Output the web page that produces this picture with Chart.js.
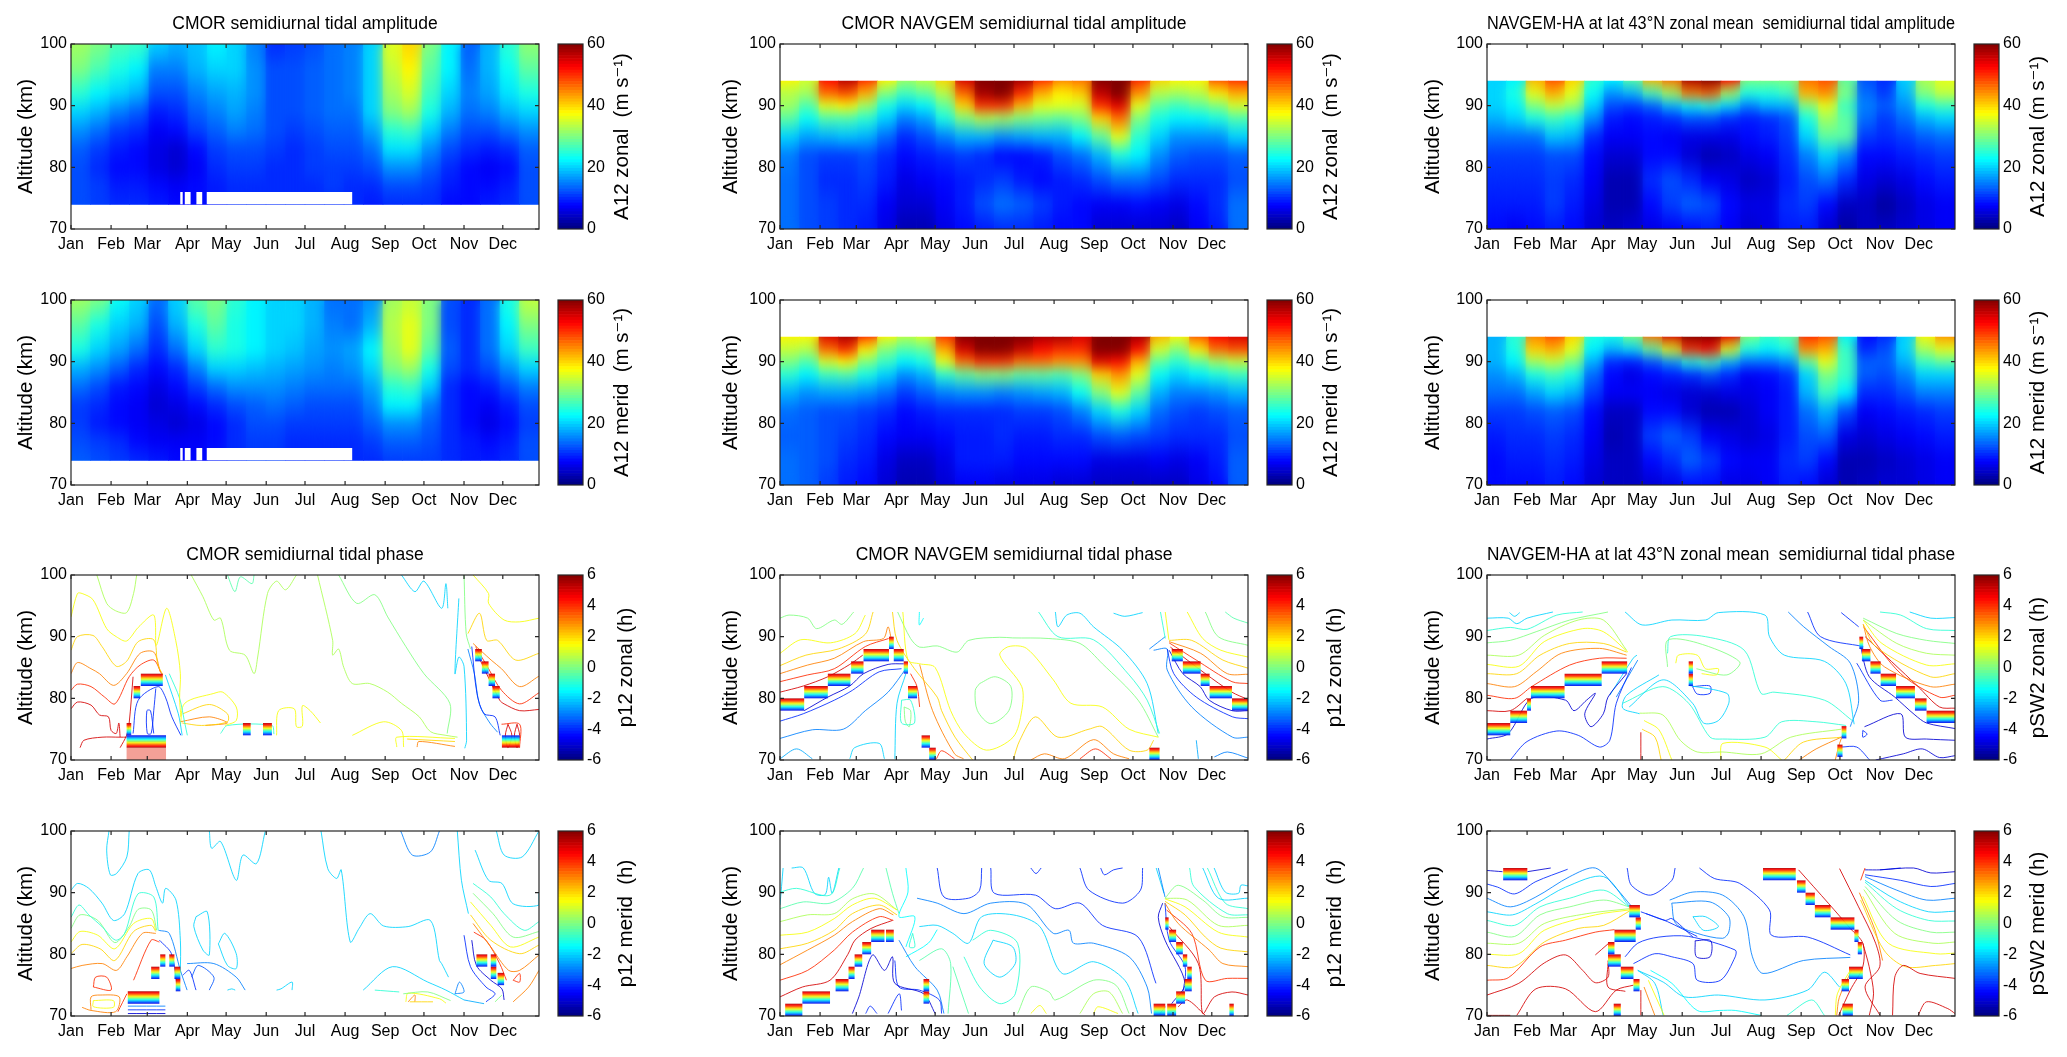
<!DOCTYPE html>
<html>
<head>
<meta charset="utf-8">
<title>Semidiurnal tidal amplitude and phase</title>
<script src="https://cdn.jsdelivr.net/npm/chart.js@4"></script>
<style>
html, body { margin: 0; background: #fff; }
#page { position: relative; width: 2067px; height: 1057px; overflow: hidden; }
canvas { position: absolute; }
</style>
</head>
<body>
<div id="page"></div>
<script>
const months = ['Jan','Feb','Mar','Apr','May','Jun','Jul','Aug','Sep','Oct','Nov','Dec'];
const monthDays = [0,31,59,90,120,151,181,212,243,273,304,334];
const lastDay = 362;
const altCmor = [74,77,80,83,86,89,92,96,100];
const altNav = [70,74,78,82,85,88,90,92,94];
// white notches in the lowest CMOR bins, [from day, to day]
const cmorGaps = [[84.5,86.4],[88,92.5],[97,101.5],[105,217.5]];

// amplitude, m/s: one row per altitude, one value per half month
const ampCmorZonal = [
  [12,11,10,10,9,8,8,9,10,10,10,10,10,10,10,9,10,10,10,8,8,9,10,12],
  [12,11,9,9,8,7,8,9,10,10,10,10,10,11,10,10,12,12,11,9,8,8,9,12],
  [12,10,8,8,6,5,7,10,11,11,10,10,11,11,11,12,16,16,13,10,8,7,8,12],
  [13,11,9,8,6,5,8,11,12,12,11,10,11,12,12,14,21,21,16,12,10,9,10,13],
  [16,14,11,10,7,8,11,13,15,14,12,11,12,13,13,17,25,26,20,15,12,12,14,16],
  [20,18,15,13,9,10,13,15,17,15,12,12,13,14,14,20,30,32,24,18,14,15,18,20],
  [25,22,20,18,12,12,15,17,18,16,12,12,13,14,15,20,32,35,26,20,15,17,21,24],
  [30,27,24,22,15,15,18,20,20,16,12,12,13,14,15,20,34,38,28,22,14,18,23,28],
  [32,30,27,26,20,18,19,22,20,15,10,11,12,14,15,20,36,40,30,22,13,18,25,31]
];
const ampCmorMerid = [
  [13,12,11,10,9,8,8,9,10,11,11,10,10,10,10,10,11,11,11,10,9,9,10,12],
  [12,11,10,8,7,7,7,8,10,11,11,10,10,10,10,11,13,13,12,10,9,8,9,12],
  [11,9,8,7,6,5,6,8,10,12,12,11,11,11,11,13,16,16,13,10,8,6,8,11],
  [11,10,8,7,5,6,8,10,12,13,14,13,12,12,12,15,22,22,15,10,8,7,9,12],
  [14,12,9,8,6,8,11,14,16,16,16,15,14,14,14,17,25,26,20,10,8,9,12,15],
  [18,16,13,10,8,10,15,20,20,19,18,17,16,15,16,20,30,32,24,12,10,12,16,20],
  [24,20,17,14,10,14,20,25,24,22,20,19,17,16,17,22,32,36,28,13,10,14,20,26],
  [28,24,20,18,12,18,24,28,24,22,20,20,18,15,14,18,33,36,30,12,10,14,22,30],
  [32,30,23,20,14,20,28,30,25,22,20,20,18,14,14,16,32,34,30,12,10,14,24,34]
];
const ampNavZonal = [
  [14,12,11,10,9,6,3,3,6,8,9,10,10,9,8,8,5,5,5,5,4,7,9,14],
  [14,12,11,10,10,7,5,5,7,9,12,14,13,11,9,8,7,7,8,7,6,8,10,14],
  [14,12,10,10,11,9,6,7,8,9,10,11,9,8,9,10,12,14,14,12,10,10,10,12],
  [15,12,11,11,12,10,8,9,10,11,10,8,8,9,12,14,18,24,22,16,13,12,12,13],
  [20,17,18,19,18,14,10,12,15,18,18,16,17,18,18,22,28,36,25,20,16,16,16,20],
  [28,23,27,27,25,20,15,17,24,30,33,32,30,29,28,30,40,46,30,24,22,22,24,27],
  [32,27,36,38,32,24,20,22,28,40,50,50,42,36,36,35,50,54,36,28,26,28,30,35],
  [33,32,46,48,42,30,26,28,33,46,58,60,50,42,38,40,56,60,44,33,32,33,38,42],
  [38,35,52,57,50,38,32,34,40,55,60,60,58,50,45,46,60,60,50,40,38,38,48,50]
];
const ampNavMerid = [
  [14,13,11,9,8,5,3,3,5,7,7,6,6,6,5,5,4,4,4,4,4,6,8,13],
  [14,13,12,10,9,6,4,4,6,9,9,9,8,8,8,8,6,6,6,7,6,7,9,13],
  [13,13,12,11,10,8,7,7,8,9,9,10,9,9,10,10,12,13,12,11,10,10,10,12],
  [14,13,12,12,11,10,8,9,10,10,10,10,11,11,12,15,20,24,20,14,12,11,12,13],
  [18,16,17,17,16,14,11,13,15,16,16,15,16,17,18,23,30,36,28,18,15,15,16,18],
  [25,22,26,27,24,20,16,18,25,28,30,30,28,28,27,30,40,44,36,23,20,22,24,26],
  [30,27,35,38,30,26,22,24,36,46,50,50,46,46,44,44,54,52,42,28,25,28,32,34],
  [34,33,46,50,38,30,27,28,42,55,60,60,56,52,50,50,60,60,52,35,30,38,46,48],
  [38,38,55,58,50,38,34,36,50,60,60,60,60,58,58,55,60,60,58,42,38,48,53,55]
];
const ampHaZonal = [
  [8,7,8,9,8,5,4,5,6,7,8,9,7,5,6,9,9,5,2,4,4,5,6,7],
  [9,9,9,11,9,6,3,3,8,11,13,12,8,6,6,10,11,8,4,4,2,4,6,7],
  [10,10,10,11,10,7,3,3,10,12,10,7,6,4,5,9,12,14,10,6,5,6,8,9],
  [11,11,11,12,12,8,5,5,8,8,5,3,4,6,7,10,15,20,16,8,8,9,10,11],
  [14,14,14,19,18,10,7,7,8,7,6,6,6,8,9,11,20,28,28,11,10,11,13,14],
  [18,20,24,26,24,16,9,8,9,10,12,12,10,9,10,12,24,32,28,14,11,14,18,20],
  [20,22,30,34,32,20,12,11,13,18,22,24,20,15,18,18,30,36,26,15,13,16,24,26],
  [20,24,36,42,36,23,16,18,26,32,45,47,32,24,24,26,42,44,30,14,11,18,30,34],
  [20,22,42,48,40,25,22,28,42,46,58,60,52,30,30,30,46,48,28,12,10,20,33,36]
];
const ampHaMerid = [
  [8,8,8,9,8,5,4,4,5,6,8,8,6,6,7,9,8,5,3,4,5,5,6,7],
  [8,9,9,10,9,6,4,4,8,10,13,11,8,7,7,10,11,8,3,3,4,5,6,7],
  [9,10,10,11,10,7,3,4,11,13,11,7,6,5,6,9,12,13,6,5,6,7,8,9],
  [11,11,12,13,12,8,4,4,8,8,5,3,3,5,7,9,14,18,12,7,8,9,10,11],
  [14,14,17,20,18,11,7,7,7,6,5,5,6,6,7,9,18,26,22,10,10,12,15,15],
  [16,18,24,26,24,14,8,6,8,9,10,12,10,7,8,10,20,30,26,13,12,15,20,20],
  [18,22,32,34,30,18,10,9,12,16,24,26,18,14,14,16,28,36,26,13,13,18,26,28],
  [18,24,40,42,36,22,18,20,28,36,50,52,36,24,22,24,44,42,26,10,12,20,32,36],
  [18,25,45,48,40,24,24,30,46,55,60,60,54,30,26,28,50,48,22,8,10,20,38,44]
];

// phase contours: [level in h, day, km, day, km, ...]
const phaseCmorZonal = [
  [0.5, 20,100,27.6,95.4,34.5,94.2,43,93.9,48.4,97,50.8,100],
  [1.4, 0,93.2,5,97,8.6,97,17,96,27.6,91.3,35,90,43,89.3,52,91.5,64,93.5,66,88.6,74,94.6,81,89.4,84.6,84,84,80,85,77],
  [2, 0,87.8,5,90,17,90.2,24,88.4,35,85.2,43,86,52,89.2,64,89.5,67,85.6,71,83.8],
  [3, 0,84,5,85.8,15.5,84.8,22,84,33,82.1,43,84,53.5,87.3,64,87.5,69,84.3],
  [4, 0,81.3,5,82.3,15.5,81.9,26,80.2,34,79.1,45,83.5,53.5,85.4,64,86.2,70,84],
  [5, 0,78.3,5,79.4,15.5,78.9,22,77.3,29,77,31,74.8,35,74.3,37,76,38,73.7],
  [5, 7,72,10,73.2,24,73.7,38,73.7,43,73.7],
  [5, 38,72,43,74,45,76,48,83.5],
  [-4, 48,74.3,52,79.7,67.4,81.9,73,80.2,78,77,85,74],
  [-4, 65.6,81.6,64,78,62,74.3,59,74.3,58.7,78,61.5,78,64,74.3],
  [-2, 73,83.8,83,77.5,86,74],
  [-1, 76,84,84,80,88,76,90,74],
  [-4, 44,73,73,73],
  [-2, 300,96.2,297,84,300,86.7,304,85.2,306,73.2,304.6,71.9],
  [-4, 310,88.4,314,80.8,319.5,77.5,328,77,332,74],
  [-3, 307,88,312,84,316,79,324,76,330,74.5],
  [1.4, 311,100,323,97,323,95.4,335,92.7,347,92.4,362,93],
  [2, 307,90.5,316,93.8,321.5,89.4,330,89.4,344,86.2,362,87.3],
  [3, 311,88.9,325,86.2,333,84.8,347,81.9,362,83.6],
  [4, 313,88.4,323,84.8,333,81.3,347,79.1,362,80.9],
  [5, 314,87.3,331.6,79.7,335,79.1,347,78,362,78.2],
  [5, 338,75.8,341,74,338,72,336,74,338,75.8],
  [5, 345,75.8,347,74,345,72,343,74,345,75.8],
  [4, 333,75.8,347,75.8,347,72],
  [0, 304,100,305.7,90.5,309,88],
  [0.5, 93,100,102,96.5,110.5,92.7,115.7,93,122.6,87.8,134.7,87,141.6,84,144.4,86.7,152,97,159,99,166,97.6,174.4,100],
  [-0.5, 121,100,126.8,97.3,131,99.7,140,98.6,141.6,100],
  [0.5, 190.7,100,202.4,89.4,202.4,87,207,88,211,85,217.6,82.4,231,82.4,245,81,255.6,79.2,269.4,77,278,74.6,290,74,299,73.7],
  [0, 207,100,221,95.4,235,96.8,245,93.2,259,88.4,273,84,293,79.2,291,74.3],
  [-2, 255.6,100,266,97.3,273,99,286.7,94.6,290,98.6,291.5,94.6],
  [1.4, 217.6,74,241.8,76.2,255.6,74.8,257.3,72.1],
  [1.4, 252,72.1,252,73.7,297,73.5],
  [2, 260,73.4,297,73],
  [3, 267.7,72.1,269,73,297,72.2],
  [1.4, 84.6,75.6,88,79.2,110.5,80.8,117.4,81,127.8,78.6,127.8,76.4,119,75.6],
  [2, 86.4,77.5,107,79,121,77.5,121,76.2,101,75.6,86,76],
  [3, 84.6,76.2,107,77,121,76,104,75.6],
  [-1, 115.7,74.3,121,75.6,155.4,75.6,157,74.2],
  [1.4, 159,74,160.6,78,172.7,78.3,174.4,75.4,179,75.5,179,78.8,185,78,193,76]
];
const phaseCmorMerid = [
  [-2, 29.4,100,27.6,96.9,30.4,92.9,35.2,93.1,43.2,95.8,45,100],
  [-2, 0,90.4,5.2,91.5,13.8,90.7,24,88.3,32.8,85.5,41.5,86.6,51.8,93.1,60.5,93.7,65.6,91,70.8,88.3,73.2,90.7,81.2,88.8,84.6,82.3,84.6,77],
  [-1, 0,86,6.2,88,13.8,86.4,24,84.5,34.5,82.3,41.5,83.4,51.8,89.8,64,89.3,67.4,83.9],
  [0, 0,84.2,7,86.4,20.7,85.5,33.9,81.9,45,84.5,52,87.3,62,87.2,66.3,83.9],
  [1.4, 0,82,7,83.7,20.7,83.1,33.9,80.9,48.4,85,62,85.8,65.6,83.9],
  [2, 0,80.1,8.6,81.6,22.5,80.9,33.9,79,48.4,83.7,62,84.7,65.6,83.7],
  [3, 0,77.7,8.6,78.2,24.2,78.5,35.2,77.4,43.2,79.6,55.3,83.4,65.6,83.4],
  [4, 48.4,75.8,62,82.3,68.4,82],
  [4, 17.3,74.7,19,76.3,27.6,76.3,31,74.2,17.3,74.7],
  [3, 8.6,71.4,15.5,70.9,34.5,70.7,37.3,73.1,22.5,73.4,15.5,73.1,15.5,71],
  [1.4, 17.3,72.5,32.8,72.5,32.8,71.4,17.3,71.5,17.3,72.5],
  [4, 36.3,70.7,43.2,73.6],
  [-3, 44,71.6,73,71.6],
  [-4, 44,71,73,71],
  [-5, 44,70.4,73,70.4],
  [-3, 67.7,83.9,76,83.4,84.6,77.4,89.8,74.2],
  [-4, 68.4,82.3,77.7,80.1,82.5,74.2],
  [-4, 86.4,76.6,91.5,77.4,96.7,74.2],
  [-3, 89.8,78.5,110.5,78.5,127.8,76.3,134.7,74.2],
  [-3.5, 93.3,76.3,98.4,78.2,110.5,76.3,107,74.2],
  [-2, 96.7,86.1,105.4,86.9,107,79.9,102,80.7,95,84.5,96.7,86.1],
  [-2, 114,81.7,119,83.4,127.8,80.1,127.8,77.7,121,78.2,114,81.7],
  [-2, 107,100,108.8,97.2,115.7,98.3,127.8,92,133,96.1,143.4,94.7,150.3,100],
  [-2, 193.4,100,198.6,93.9,205.5,92.3,209,93.7,216,82,222.8,84.2,231.4,86.6,241.8,84.6,260.8,84.5,278,85.5,285,79,286.7,78.5,292,76.3],
  [-3, 255,100,264,96.1,278,96.6,285,100],
  [-2, 226,74.2,248.7,78,276,75.5,290,74.2,304,72.6],
  [-1, 235,74.2,253.9,73.9],
  [0, 257,73.6,276,73.9,293.6,72.5],
  [1.4, 259,72.3,260.8,73.7,285,72.8,290,72.1],
  [2, 262,72.3,280,72.3],
  [3, 260.8,72.3,266,73.4,266,72.3],
  [-2, 121,74.2,124.4,74.4,127,74.2],
  [-2, 159,74.2,162.4,74.4,171,75.5,171,74.2],
  [-2, 298.8,100,302,92,307.4,86.6],
  [-2, 312.6,96.9,323,92,333.3,91.5,342,88.2,362,88,362,90],
  [-2, 329,100,335,96.1,349,95.8,362,100],
  [-1, 311,91.5,324.7,89.3,335,86.6,350.6,83.9,362,85.3],
  [0, 311,89.9,326.4,86.6,342,82.8,362,83.7],
  [1.4, 309,88.5,324.7,84.7,340,81.2,362,82.8],
  [2, 309,86.4,324.7,82.3,347,80.1,362,81.5],
  [3, 311,85,324.7,81.2,338.5,77.4,347,77.4,362,79.9],
  [4, 311.6,83.6,321,82.3,331.6,78.5,336.8,75.8],
  [3, 342,72.3,354,74.7,362,77.4],
  [4, 342,75.8,347,76.9,347,75.5,342,75.8],
  [-5, 310,82.3,313.6,78.2,324.7,75.8,333.3,74.4,335,72.6],
  [-4, 304,83.1,309,78,321,74.7,328,73.6,321,72.3],
  [-3, 297,73.6,300.5,75.5,304,73.9,297,73.6],
  [-2.5, 304,72.6,319.5,72],
  [0, 328,72.3,333.3,73.4]
];
const phaseNavZonal = [
  [0, 0,93,7,93.5,21.4,93,28.3,91.3,42,92.7,48,92,57,94],
  [1.4, 0,87.3,16,89.5,39,89,58,90.5,66,93.5],
  [2, 0,85.3,20,87,45,88,66,90.4,72,94],
  [3, 0,84,21.4,85.4,42,86.5,64.6,89.2,80,89.7,83.6,91.6,86,89.7],
  [4, 0,82.7,21.4,83.8,42,84.8,66,88.4,84,89.7],
  [5, 0,81,18,82,37,83.5,54,85.5,64,87],
  [-5, 18.7,78,37,80.2,54,82,64.6,84,83.6,85.5,95.7,85.6],
  [-4, 0,76.3,18,77.5,42,79.7,56,81.3,76.7,84.3,94,84.8],
  [-3, 0,73.5,25,74.9,49,75,66,78,83.6,81,97.4,84.8],
  [-2.5, 0,70.2,12.8,71.8,25,70.2],
  [-2, 54,70.2,57.7,72,76.7,72.7,80.8,70.2],
  [-2, 88.8,70.2,90.5,79.2,97.4,84],
  [-1, 94,79.7,101,79.7,104,76,94,76,94,79.7],
  [0, 96,78.6,101,78,100,75.4,97,76.2,96,78.6],
  [-1.5, 107.8,94,107.8,91.9,111,93],
  [1.4, 95,94,99,86.2,108,85.6,120,85,132,78,142.3,74.3,159.6,71.6,180.3,73.7,187,78,187,81.9,170,87,177,88.4,190.7,88.1,211.4,83,225,79.2,249.4,78.6,270,75,292.6,73.7],
  [0, 91,94,101,89.7,108,88.3,121.6,88.5,137,87.5,146,89.4,170,89.9,180,89.8,208,89.7,232,88.9,249.4,85.6,277,79.7,292.6,73.7],
  [-1, 200,94,215,90,242.5,89.5,270,83.8,284,79.7,293.6,74.3],
  [-2, 213,94,215,91.6,221.8,93.5,232,93.8,242.5,91.6,265,87.8,284,82.4,292.6,74.3],
  [-2, 258,93.8,266.7,93.3,280.5,93.9],
  [0, 154.4,82.4,166.5,83.5,178.6,81.9,177,78,163,75.9,152.7,78,151,81.3,154.4,82.4],
  [2, 87,94,90.5,89.4,104,84.8,121.6,80.2,125,78,135.4,73.7,149,70],
  [2, 180.3,70,185.5,73.2,197.6,77,215,73.7,239,75,249.4,75.4,270,71.6,284,71.6,289,73.2],
  [3, 194,70,204.5,71,220,70.2,242.5,73.3,258,71,270,70.2],
  [4, 232,70.2,244,71.8,256,70.2],
  [4, 101,84,106,81.9,108,78.6],
  [3, 108,85.5,118,78,135,71,142,70.2],
  [4, 121,70.2,125,71.5,135,70.2],
  [-1, 294.3,94,298,89.7],
  [1.4, 298,94,300.8,89.5],
  [-0.5, 344.4,94,351,93,362,92.2],
  [0, 329,94,339,90,362,88.6],
  [1.4, 315,94,327,89.7,341,87.8,362,86.7],
  [2, 301,89.4,318.5,89.4,342.6,86.2,362,84.9],
  [3, 301,89.2,325.4,87.3,346,84,362,83.9],
  [4, 301,89,322,86.2,349.6,82.7,362,82.4],
  [5, 302,88.3,329,84,349.6,81,362,79.8],
  [-5, 301,87.8,311.6,84,325,81.9,332,79.7,349.6,78,362,78],
  [-4, 299.5,88,304.6,84,322,80.2,350,77,362,76.7],
  [-3, 289,87.8,299.5,88,299.5,84.6,318.5,78.6,350,73.7,362,73.7],
  [-2.5, 322,73.2,323.6,70.2],
  [-3, 336,70.5,346,71.3,362,70.3],
  [-3, 285.7,88,298,90]
];
const phaseNavMerid = [
  [5, 0,73.1,17.3,74.7,38.7,75.8,52.5,80,58,82.3,70.5,84.2,87,85.5],
  [4, 0,75.8,21.4,77.4,42,80.7,56,83.6,76.7,86.1,87.7,85.5],
  [3, 0,78.3,21.4,80.7,42,83.1,56,85.3,76.7,87.4,87.7,86.4],
  [2, 0,80.9,21.4,81.8,42,83.9,56,86.6,76.7,88,90.5,86.4],
  [1.4, 0,83.1,21.4,83.6,42,85.8,56,88,73,89.1,90.5,87.2],
  [0.5, 0,85.3,21.4,86.4,42,86.6,56,89,73,89.8,90.5,87.2],
  [-0.5, 0,87.4,18,88.5,38.7,88.3,56,90.7,64.6,94],
  [-1, 0,90.1,12.8,90.7,38.7,89.6,46.3,94],
  [-2, 9,94,18,94,26.6,89.9,35,89.7,37.6,92.5,40.4,89.9,45.5,94],
  [-2, 0,88,2.4,94],
  [-0.5, 82,94,87,89.9,92,86.6],
  [-1.5, 97.4,94,99,90.1,92,86.1,104.3,86.1,97.4,81.2],
  [-4, 121.6,94,126.8,89.3,145.8,89.1,154.4,90.4,156,94],
  [-4, 163,94,165.8,89.9,197.6,89.6,213,87.4,232,88.3,249.4,84.7,277,82.8,290.8,75.3],
  [-4, 232,94,239,90.4,265,88.3,278.8,90.4,280.5,94],
  [-4, 194,94,198,93.1,202,94],
  [-4, 248,94,251,92.9,258,93.7,265,94],
  [-3, 106,89.1,121.6,88.3,142.3,86.6,163,88.3,190.7,88.1,211.4,83.4,223.5,83.9,227,81.8,242.5,81.8,270,79.6,284,74.7,287.4,70.4],
  [-2, 107.8,84.5,121.6,84.7,133.7,83.4,145.8,81.8,156,86.1,180.3,86.4,201,84.5,218.3,76.9,242.5,78.8,266.7,75.8,277,70.4],
  [-1, 149,82.3,163,83.9,183.8,81.8,182,73.6,170,72,154.4,74.7,142.3,79.6],
  [-2, 164.8,82.3,180,81.2,182,78.5,170,76.3,157.9,78.5,164.8,82.3],
  [0, 183.8,70.4,194,74.7,208,73.9,213,72.6,242.5,75.8,259.8,75,270,70.4],
  [0.5, 232,70.4,242.5,73.6,254.6,73.9,265,70.4],
  [1.4, 194,70.4,201,71.7,206,70.4],
  [1.4, 242.5,70.4,246,71.5,261.5,70.4],
  [-5, 56,70.4,61,73.1,71.5,79.9,80.8,77.4,87,79.6,88.8,75.3,111.2,73.6,120,70.4],
  [-4, 88.8,79,92,74.7,107.8,74.2,123.3,72.6,125,70.4],
  [-3, 92,82.3,104.3,78,121.6,74.2,126.8,70.4],
  [-4, 66.3,70.4,69.8,71.6,75,70.4],
  [-4, 83.6,70.4,92.2,73.6,94,70.9],
  [-1.5, 97.4,79.6,114.7,81.8,121.6,84],
  [-1, 102.6,83.4,104.3,81.2,100,81.2,102.6,83.4],
  [-0.5, 107.8,79,125,80.9,132,78.5,130,70.4],
  [-0.5, 145.8,70.4,133.7,78],
  [-3, 292.6,94,297.8,89.3],
  [-2, 291,94,297,89.9],
  [-1, 316.8,94,320.2,91,346,86.6,362,86.4],
  [-2, 335.8,94,344.4,90.1,354.7,89.9,356.5,91.2,362,91.1],
  [-2, 327,94,339.2,89.1,362,89.1],
  [-1, 330.6,94,344.4,88.3,362,87.4],
  [0, 297.8,89.1,308,91.2,327,88.8,342.6,86.1,362,86],
  [0.5, 297.8,89.1,315,88.8,339,84.7,362,84.7],
  [1.4, 297.8,89,313.3,87.7,339,83.6,362,82.8],
  [2, 297.8,88.6,313.3,86.4,329,82.8,341,81,362,80.4],
  [3, 297.8,88.3,308,85,332,80.7,342.6,78.5,362,78],
  [4, 299,87.2,318.5,83.4,329,75.8,346,76.1,362,76.1],
  [5, 301,84.5,323.6,78.5,327,70.4,336,73.1,349.6,73.9,362,73.4],
  [5, 308,71.5,315,72.6,329,70.1],
  [-5, 296,88.3,292.6,86,297.8,82.3,313.3,75.3,303,72],
  [-4, 297.8,88.3,301,82.3,313.3,78,311.6,73.6],
  [-4, 294,70.4,298,71.5]
];
const phaseHaZonal = [
  [-2, 0,93,16.4,93,23,92.1,31,93,51,94],
  [-2, 17.4,93.9,21.4,93.3,25.3,93.9],
  [-1, 0,91,18,91.5,31,91.2,54,93.5,74,94],
  [0, 0,89,18,89.4,38,90.8,64,92.7,93.6,94],
  [0.5, 0,87,24.6,87,44.3,90.2,70.6,92.7,90,92.7,108,87.8],
  [1.4, 0,85.5,24.6,85.2,44.3,89.2,74,91.3,90,90.8,109,87.5],
  [2, 0,84,23,84,41,87,64,88.9,90,88.9,108,87.5],
  [3, 0,82.4,21.4,81.9,38,84.3,57.5,87.3,87,88.1,108,87],
  [4, 0,80.5,21.4,80,34.5,81.9,64,85.4,87,86.5,108,86.5],
  [5, 0,78,18,78,31,80],
  [-5, 0,73.4,16.4,74.3,34.5,80,60.8,79.7,67.3,78,77,79.7,83.8,80.8,75.6,77.5,80.5,75.4,90,77.5,93.6,80.2,108,84],
  [-4, 18,70,31,73,54,74.7,70.6,74,87,72.1,95,73.2,100,79.2,111.7,85],
  [-3, 100,80.2,116.6,86.2],
  [-2, 95,80.5,113,86.5,116,87],
  [-2, 106.8,94,120,91.9,143,92.7,169,92.7,179,93.9,215,93.5,218.5,90,230,87,261,86,277.6,82.4,284,75.8],
  [-3, 233,94,245,91.6,264.5,88.4,281,85.7,287.5,79.7,281,75.4],
  [-4, 248,94,258,90,291,88.4],
  [-4, 274,93.9,287.5,91.6],
  [-2, 133,83.8,108,80.5,105,78.4,118,77.5],
  [-2, 156,82.1,185.6,80.8,187,79.2,179,76.4,167.5,76,159,79.2,136.3,83,110,78.6],
  [-1, 105,79.2,136,81.9,156,79.2,172.5,73.7,182,73.4,215,73.7,228,76.2,254.6,76.2,277.6,75.6],
  [0.5, 118,77.6,136,77.3,149.5,73.2,162.6,71.3,182,71.3,212,71,235,73.7,274,75],
  [1.4, 121.5,76.4,133,74.9,143,70],
  [2, 120,75,130,73.7,134.7,70],
  [1.4, 180.7,70,182.5,72.7,215,72.1,228,70],
  [2, 230,70,244.7,72.9,274,73.7],
  [3, 241.5,70,254.6,71.8,274,73.7],
  [3, 269.4,70,272.7,72.7,276,74.5],
  [5, 119,74.5,119,70],
  [-4, 274,72.1,286,72.1,296,70],
  [-4, 290.7,74.8,294,74.2,290.7,73.7,290.7,74.8],
  [-5, 292,75.4,320,77.5,323.6,73.7,340,73.4,362,73.2],
  [-5, 300.6,70,322,71,336.7,71.8,350,70.4,362,70.7],
  [-4, 286,85.7,304,79.7,313.7,79.7],
  [-5, 289,88.4,295.7,83.5,315.4,80.2,331,77.3,340,76,362,75.1],
  [-2, 362,93.1,343.3,93,327,94],
  [-1, 362,91,340,91.3,320,93.5,304,94],
  [0, 291,93,317,90.5,340,89.4,362,88.9],
  [0.5, 291,92.7,317,88.9,340,87.3,362,87],
  [1.4, 291,92.7,305.5,88.9,340,85.4,362,85.6],
  [2, 291,92,300.6,88.4,343,83.5,362,84],
  [3, 291,92,296,88.4,307.5,85.1,343,81.9,362,82.3],
  [4, 291.6,91.5,320,84,350,80.2,362,80.5],
  [5, 292.5,90,333.5,81.9,350,78.6,362,78.4],
  [1.4, 146,85.7,148,87,162.6,87,169,84.8,179,84.8,177.4,83.8,166,84],
  [0, 139.6,85.1,139.6,89.4,162.6,89,195.5,85.9,185.6,83.8,162,84.8],
  [-1, 139.6,87.3,142,90,169,90,199,87.8,212,80.8,222,81,261,79.7,282.5,76.4],
  [-4, 159,81.9,172.5,82,172.5,80.8,162.6,80.7,159,81.9]
];
const phaseHaMerid = [
  [-5, 0,93.6,12,93.4],
  [-5, 31.2,93.4,49.3,94],
  [-4, 0,91.4,8.2,90.9,21.4,89.8,37.8,91.8,62.4,93.8],
  [-3, 0,89.1,18,87.7,37.8,89.3,64,92.6,83.8,94,100,90.7,111.7,87.8],
  [-2, 0,86.9,19.7,86.4,37.8,88.2,60.8,90.9,90.3,92.6,110,87.8],
  [-1, 0,85.5,21.4,84.7,41,87.7,64,89.1,90.3,90.4,110,87.7],
  [0, 0,83.6,21.4,82.9,41,86.4,64,87.7,90.3,88.8,110,87.7],
  [0.5, 0,81.8,24.6,81.8,44.3,85,77.2,86.6,110,87.4],
  [1.4, 0,80,24.6,80.1,44.3,83.9,83.8,86.4,110,87.2],
  [2, 0,78.2,21.4,78,44.3,82,70.6,84.2,90.3,84.7,110,87],
  [4, 0,75.8,16.4,76.2,41,81.2,60.8,82.3,83.8,83.6,98.6,84],
  [5, 0,73.4,24.6,75.3,44.3,78.6,60.8,79.9,74,77.4,83.8,75.4,93.6,76.3,93.6,79],
  [5, 23,70.1,37.8,74.4,60.8,74.4,83.8,70.7,100,74.2,113.3,75],
  [5, 0,70.1,18,70.1],
  [5, 83.8,79.9,93.6,81.7],
  [5, 93.6,78.5,93.6,74.7,107,74],
  [5, 119,74.2,119,70.1],
  [3, 121.5,74.7,129.8,70.1],
  [1.4, 124.8,75.8,137,70.1],
  [-2, 116.6,77.4,129.8,75.3,136.3,70.1],
  [-4, 123,86.6,138,85.5,143,85.8,159.3,82.8],
  [-4, 119,86.9,139.6,85.3,162.6,82.9],
  [-4, 108.4,94,111.7,91.2,126.5,89.6,143,92,145.5,94],
  [-4, 164.3,94,175.8,92.3,195.5,91.5,218.5,87.2,220,83.1,248,82.8,281,79.9],
  [-3, 141.3,88.8,159.3,90.1,182.3,89.6,198.8,86.1,205.3,79.6,213.5,76.9,244.7,79,281,79.5],
  [-3, 142.9,88.3,146,85,162.6,83.4,182.3,82.6,187,83.6,187,86.1,172.5,88.5,142.9,88.3],
  [-2, 159.3,86.1,169,86.1,179,84.5,167.5,83.9,159.3,86.1],
  [-5, 161,82.2,173,82.2,172.5,79.6,162,79.6,161,82.2],
  [-4, 106.8,79.6,116.6,81.8,133,82.8,156,82.9,192,80.7,192,79.6,180.7,75.8,162.6,75.8,159.3,78.5,143,79.6,129.8,80.1,113.3,78.5],
  [-2, 116.6,77.4,136.3,75.5,152.8,73.1,179,73.4,215,72.6,248,74.2,261,77.1,272.7,74.7],
  [-1.5, 126.5,77.4,143,75.3,162.6,70.9,180,70.9,192,70.9,212,70.1],
  [-1, 232,70.1,251.2,72.6,261,70.1],
  [1.4, 269.4,70.1,271,73.6,281,77.4],
  [3, 270.5,70.1,272.5,73,282,77.4],
  [5, 272,70.1,281,74.2,290.7,78,290.7,81.8,281,84.2,264.4,88.2,241,93.7],
  [5, 272.7,93.9,287.4,87.7,300.6,81.8,303.8,78,292.4,74.7,304,70.1],
  [5, 290.7,81.8,295.6,78,299,73.6,295.7,70.1],
  [5, 313.7,70.1,315.4,76.3,322,78.2,335,76.9,362,76.1],
  [5, 333.4,70.1,340,72.3,356.4,71.2,362,70.4],
  [-5, 292.4,93.7,304,93.7,330,94,343.3,93.2,362,93.4],
  [-4, 304,93.7,320,94],
  [-4, 292.4,92.9,320,92,343.3,91,362,91.5],
  [-3, 292.4,92.6,317,90.4,340,88.8,362,89.1],
  [-2, 292.4,92,317,88.8,341.6,86.9,362,87],
  [-1, 292.4,91.7,317,87.4,341.6,85.5,362,85.4],
  [0, 292.4,91,317,85.5,343.3,83.6,362,83.6],
  [0.5, 291.5,90.5,315.4,83.4,345,81.8,362,82],
  [1.4, 290.7,89.4,310.4,81.8,347,80.1,362,80.2],
  [2, 289,88.8,307,80.7,323.6,78,347,78.2,362,78.5],
  [3, 288,90,300,84,306,79],
  [4, 289,92,292.4,94]
];

// rainbow bands where the phase wraps: [from day, to day, centre km, 1 = upside down, 2 = pale]
const bandsCmorZonal = [[43,46.6,75,0],[48.4,53.5,81,0],[54,71,83,0],[43,73.5,73,1],[43,73.5,71,2],[133,139,75,0],[148.5,155.4,75,0],
  [312.6,317.8,87,0],[317.8,323,85,0],[323,328,83,0],[326,331.6,81,0],[333.3,347,73,1]];
const bandsCmorMerid = [[43.9,68.4,73,0],[62,68.4,77,0],[69,73,79,0],[76,80,79,0],[80,84.6,77,0],[81,84.6,75,0],
  [313.6,322,79,0],[324.7,329,79,0],[324.7,329,77,0],[330,335,76,0]];
const bandsNavZonal = [[0,18.7,79,0],[18.7,37,81,0],[37,54.5,83,0],[55,64.6,85,0],[64.6,84.3,87,0],[84.3,88,89,0],[88,95.7,87,0],[95.7,99,85,0],[99,106,81,0],[109.5,116,73,0],[115.4,120.5,71,0],
  [285.7,293.6,71,0],[303,311.6,87,0],[311.6,325.4,85,0],[325.4,332.3,83,0],[332.3,349.6,81,0],[349.6,362,79,0]];
const bandsNavMerid = [[4,17.3,71,0],[17.3,38.7,73,0],[43,53,75,0],[53,57.7,77,0],[57.7,63.6,79,0],[63.6,70.5,81,0],[70.5,80.8,83,0],[82,88,83,0],[111,115.4,75,0],[111,115.4,73,0],
  [289,298,71,0],[299.5,306.4,71,0],[306.4,313.3,73,0],[313,318.5,75,0],[315,318.5,77,0],[311.6,315,79,0],[306.4,311.6,81,0],[301,306.4,83,0],[298,300.6,85,0],[347.6,351,71,0]];
const bandsHaZonal = [[0,18,75,0],[18,31,77,0],[31,34,79,0],[34,60,81,0],[60,88.7,83,0],[88.7,108.4,85,0],[156,159.3,85,0],[156,159.3,83,0],
  [274.3,278,74.5,0],[271,275,71.5,0],[288,291,89,0],[290,296.6,87,0],[296.6,304.5,85,0],[304.5,316.4,83,0],[316.4,331,81,0],[331,340,79,0],[340,362,77,0]];
const bandsHaMerid = [[12.5,31.2,93,0],[110,118.3,87,0],[115,119,85,0],[98.6,115,83,0],[93.6,98.6,81,0],[93.6,103.5,79,0],[103.5,113.3,77,0],[113.3,118,75,0],[98,103.5,71,0],
  [213.5,238.8,93,0],[239.8,246.4,91,0],[246.4,253.6,89,0],[253.6,265.8,87,0],[265.8,284.2,85,0],[284.2,287.4,83,0],[286.8,290,81,0],[280,290.7,77,0],[274.3,280,75,0],[275,283,71,0]];

const ampTitles = ['CMOR semidiurnal tidal amplitude','CMOR NAVGEM semidiurnal tidal amplitude','NAVGEM-HA at lat 43\u00b0N zonal mean  semidiurnal tidal amplitude'];
const phaseTitles = ['CMOR semidiurnal tidal phase','CMOR NAVGEM semidiurnal tidal phase','NAVGEM-HA at lat 43\u00b0N zonal mean  semidiurnal tidal phase'];

// page layout
const plotX = [71,780,1487];
const barX = [558,1267,1974];
const plotY = [44,300,575,831];
const altLabelPad = [13.7,9.7,4.7];
const fontFamily = '"Liberation Sans", Arial, "DejaVu Sans", sans-serif';
const bandPx = 12.3; // 2 km on the plot

function jet(v, alpha = 1) {
  const c = x => Math.round(255 * Math.min(1, Math.max(0, 1.5 - Math.abs(4 * v - x))));
  return `rgba(${c(3)},${c(2)},${c(1)},${alpha})`;
}

function addCanvas(left, top, width, height) {
  const el = document.createElement('canvas');
  el.width = width;
  el.height = height;
  el.style.left = left + 'px';
  el.style.top = top + 'px';
  document.getElementById('page').appendChild(el);
  return el.getContext('2d');
}

const framePlugin = {
  id: 'frame',
  afterDraw(chart, args, opts) {
    const {ctx, chartArea: a, scales} = chart;
    ctx.save();
    ctx.strokeStyle = '#262626';
    ctx.lineWidth = 1.2;
    ctx.strokeRect(a.left, a.top, a.right - a.left, a.bottom - a.top);
    if (opts.ticks) {
      ctx.beginPath();
      scales.x.ticks.forEach(t => {
        const px = scales.x.getPixelForValue(t.value);
        ctx.moveTo(px, a.bottom); ctx.lineTo(px, a.bottom - 4);
        ctx.moveTo(px, a.top); ctx.lineTo(px, a.top + 4);
      });
      scales.y.ticks.forEach(t => {
        const py = scales.y.getPixelForValue(t.value);
        ctx.moveTo(a.left, py); ctx.lineTo(a.left + 4, py);
        ctx.moveTo(a.right, py); ctx.lineTo(a.right - 4, py);
      });
      ctx.stroke();
    }
    ctx.restore();
  }
};

// soft second pass over the columns so the half-month steps melt together
const smoothPlugin = {
  id: 'smooth',
  afterDatasetDraw(chart, args) {
    if (args.meta.type !== 'bar') return;
    const ctx = chart.ctx;
    ctx.save();
    ctx.beginPath();
    args.meta.data.forEach(b => {
      const p = b.getProps(['x', 'y', 'base', 'width']);
      ctx.rect(p.x - p.width / 2, p.y, p.width, p.base - p.y);
    });
    ctx.clip();
    ctx.filter = 'blur(6px)';
    args.meta.controller.draw();
    ctx.restore();
  }
};

// bottom-to-top label beside the colour bar
const barLabelPlugin = {
  id: 'barLabel',
  afterDraw(chart, args, opts) {
    const {ctx, chartArea: a} = chart;
    ctx.save();
    ctx.translate(a.left + opts.dx, (a.top + a.bottom) / 2);
    ctx.rotate(-Math.PI / 2);
    ctx.font = `20.5px ${fontFamily}`;
    ctx.fillStyle = '#000';
    ctx.textAlign = 'center';
    ctx.textBaseline = 'middle';
    ctx.fillText(opts.text, 0, 0);
    ctx.restore();
  }
};

function axes(col) {
  return {
    x: {
      type: 'linear', min: 0, max: lastDay, offset: false,
      grid: {display: false, drawTicks: false}, border: {display: false},
      afterBuildTicks(s) { s.ticks = monthDays.map(value => ({value})); },
      afterFit(s) { s.height = 30; },
      ticks: {
        autoSkip: false, maxRotation: 0, minRotation: 0, padding: 6, color: '#000',
        font: {family: fontFamily, size: 16},
        callback: v => months[monthDays.indexOf(v)]
      }
    },
    y: {
      min: 70, max: 100,
      grid: {display: false, drawTicks: false}, border: {display: false},
      afterFit(s) { s.width = 71; },
      ticks: {stepSize: 10, padding: 4, color: '#000', font: {family: fontFamily, size: 16}},
      title: {
        display: true, text: 'Altitude (km)', color: '#000',
        font: {family: fontFamily, size: 20.5}, padding: {top: altLabelPad[col], bottom: 0}
      }
    }
  };
}

function panelPlugins(title) {
  return {
    legend: {display: false},
    tooltip: {enabled: false},
    frame: {ticks: true},
    title: {
      display: !!title, text: title, color: '#000', fullSize: false,
      font: {family: fontFamily, size: 17.5, weight: 'normal'},
      padding: {top: 14, bottom: 9}
    }
  };
}

function panelOptions(col, title) {
  return {
    responsive: false, animation: false, events: [],
    layout: {autoPadding: false, padding: {top: title ? 0 : 44, right: 20, left: 0, bottom: 0}},
    scales: axes(col),
    plugins: panelPlugins(title)
  };
}

function amplitudePanel(row, col, title, alts, values, gaps) {
  const ctx = addCanvas(plotX[col] - 71, plotY[row] - 44, 559, 259);
  const lo = alts[0], hi = alts[alts.length - 1];
  const span = lastDay / values[0].length;
  const bars = values[0].map((_, i) => ({x: (i + 0.5) * span, y: [lo, hi]}));
  const columnFill = c => {
    const {chart, dataIndex} = c;
    if (!chart.chartArea || dataIndex === undefined) return '#00f';
    const g = chart.ctx.createLinearGradient(0, chart.scales.y.getPixelForValue(lo), 0, chart.scales.y.getPixelForValue(hi));
    alts.forEach((a, r) => g.addColorStop((a - lo) / (hi - lo), jet(values[r][dataIndex] / 60)));
    return g;
  };
  const masks = gaps.map(g => ({
    type: 'line', order: 1, data: [{x: g[0], y: 75}, {x: g[1], y: 75}],
    borderColor: '#fff', borderWidth: bandPx, borderCapStyle: 'butt', pointRadius: 0
  }));
  new Chart(ctx, {
    type: 'bar',
    data: {datasets: [
      {data: bars, order: 2, backgroundColor: columnFill, borderWidth: 0, barPercentage: 1, categoryPercentage: 1, grouped: false},
      ...masks
    ]},
    options: panelOptions(col, title),
    plugins: [framePlugin, smoothPlugin]
  });
}

function bandColor(km, mode) {
  return c => {
    const {chart} = c;
    if (mode === 2) return 'rgba(243,150,140,0.9)';
    if (!chart.chartArea) return '#00f';
    const y = chart.scales.y;
    const g = chart.ctx.createLinearGradient(0, y.getPixelForValue(km - 1), 0, y.getPixelForValue(km + 1));
    const steps = [0.1, 0.2, 0.3, 0.4, 0.5, 0.6, 0.7, 0.8, 0.88, 0.96];
    steps.forEach((s, i) => {
      const at = i / (steps.length - 1);
      g.addColorStop(mode === 1 ? 1 - at : at, jet(s, 0.92));
    });
    return g;
  };
}

function phasePanel(row, col, title, contours, bands) {
  const ctx = addCanvas(plotX[col] - 71, plotY[row] - 44, 559, 259);
  const bandSets = bands.map(b => ({
    data: [{x: b[0], y: b[2]}, {x: b[1], y: b[2]}],
    showLine: true, pointRadius: 0, borderWidth: bandPx, borderCapStyle: 'butt',
    borderColor: bandColor(b[2], b[3])
  }));
  const lineSets = contours.map(c => {
    const pts = [];
    for (let i = 1; i < c.length; i += 2) pts.push({x: c[i], y: c[i + 1]});
    return {data: pts, showLine: true, pointRadius: 0, borderWidth: 1, tension: 0.3, borderColor: jet((c[0] + 6) / 12, 0.85)};
  });
  new Chart(ctx, {
    type: 'scatter',
    data: {datasets: [...bandSets, ...lineSets]},
    options: panelOptions(col, title),
    plugins: [framePlugin]
  });
}

function colorBar(row, col, min, max, step, text, dx) {
  const ctx = addCanvas(barX[col] - 2, plotY[row] - 16, 105, 217);
  const levels = 64;
  const sets = [];
  for (let i = 0; i < levels; i++) {
    const a = min + (max - min) * i / levels, b = min + (max - min) * (i + 1) / levels;
    sets.push({data: [[a, b]], backgroundColor: jet((i + 0.5) / levels), barPercentage: 1, categoryPercentage: 1, grouped: false, borderWidth: 0});
  }
  new Chart(ctx, {
    type: 'bar',
    data: {labels: [''], datasets: sets},
    options: {
      responsive: false, animation: false, events: [],
      layout: {autoPadding: false, padding: {top: 16, bottom: 16, left: 2, right: 0}},
      scales: {
        x: {display: false},
        y: {
          position: 'right', min, max,
          grid: {display: false, drawTicks: false}, border: {display: false},
          afterFit(s) { s.width = 78; s.paddingTop = 0; s.paddingBottom = 0; },
          ticks: {stepSize: step, padding: 4, color: '#000', font: {family: fontFamily, size: 16}}
        }
      },
      plugins: {legend: {display: false}, tooltip: {enabled: false}, frame: {ticks: false}, barLabel: {text, dx}}
    },
    plugins: [framePlugin, barLabelPlugin]
  });
}

amplitudePanel(0, 0, ampTitles[0], altCmor, ampCmorZonal, cmorGaps);
amplitudePanel(0, 1, ampTitles[1], altNav, ampNavZonal, []);
amplitudePanel(0, 2, ampTitles[2], altNav, ampHaZonal, []);
amplitudePanel(1, 0, '', altCmor, ampCmorMerid, cmorGaps);
amplitudePanel(1, 1, '', altNav, ampNavMerid, []);
amplitudePanel(1, 2, '', altNav, ampHaMerid, []);
phasePanel(2, 0, phaseTitles[0], phaseCmorZonal, bandsCmorZonal);
phasePanel(2, 1, phaseTitles[1], phaseNavZonal, bandsNavZonal);
phasePanel(2, 2, phaseTitles[2], phaseHaZonal, bandsHaZonal);
phasePanel(3, 0, '', phaseCmorMerid, bandsCmorMerid);
phasePanel(3, 1, '', phaseNavMerid, bandsNavMerid);
phasePanel(3, 2, '', phaseHaMerid, bandsHaMerid);

colorBar(0, 0, 0, 60, 20, 'A12 zonal  (m s\u207b\u00b9)', 64);
colorBar(0, 1, 0, 60, 20, 'A12 zonal  (m s\u207b\u00b9)', 64);
colorBar(0, 2, 0, 60, 20, 'A12 zonal (m s\u207b\u00b9)', 64);
colorBar(1, 0, 0, 60, 20, 'A12 merid  (m s\u207b\u00b9)', 64);
colorBar(1, 1, 0, 60, 20, 'A12 merid  (m s\u207b\u00b9)', 64);
colorBar(1, 2, 0, 60, 20, 'A12 merid (m s\u207b\u00b9)', 64);
colorBar(2, 0, -6, 6, 2, 'p12 zonal (h)', 68);
colorBar(2, 1, -6, 6, 2, 'p12 zonal (h)', 68);
colorBar(2, 2, -6, 6, 2, 'pSW2 zonal (h)', 64);
colorBar(3, 0, -6, 6, 2, 'p12 merid  (h)', 68);
colorBar(3, 1, -6, 6, 2, 'p12 merid  (h)', 68);
colorBar(3, 2, -6, 6, 2, 'pSW2 merid (h)', 64);
</script>
</body>
</html>
